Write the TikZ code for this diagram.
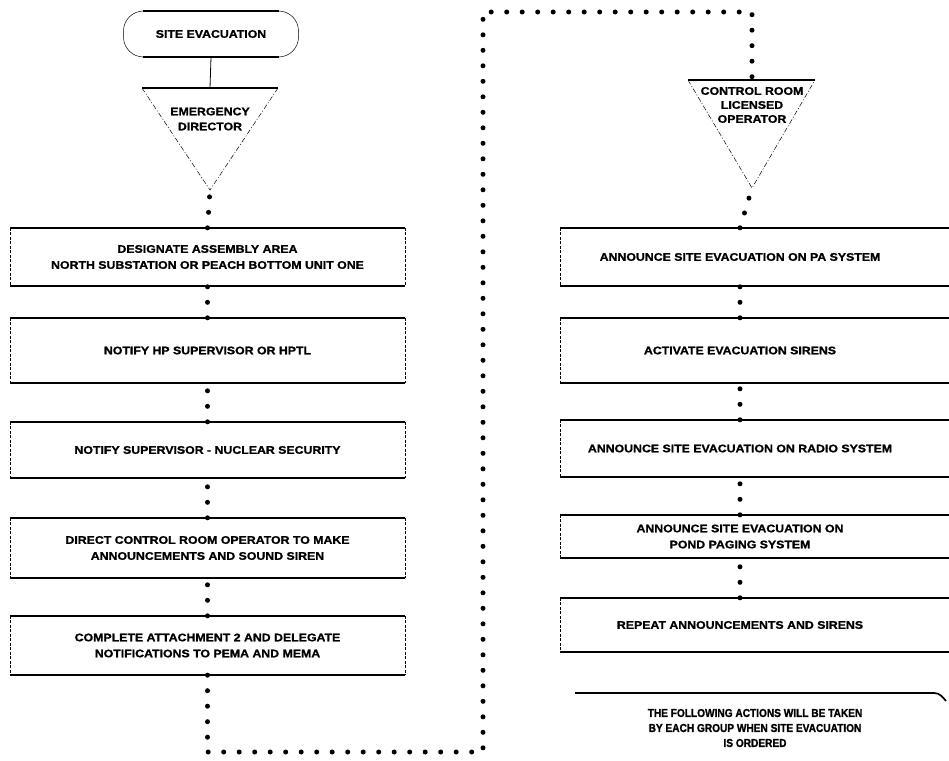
\documentclass[tikz,border=0pt]{standalone}
\usepackage{fontspec}
\setmainfont{Liberation Sans}[FakeStretch=1.12, BoldFeatures={FakeBold=1.2}]
\newfontfamily\notefont{Liberation Sans}[FakeStretch=0.88, BoldFeatures={FakeBold=1.3}]
\begin{document}
\begin{tikzpicture}[x=1pt,y=-1pt,font=\bfseries\fontsize{11}{16}\selectfont]
\tikzset{
  box/.style={inner sep=0pt, align=center, minimum width=395pt},
  rbox/.style={inner sep=0pt, align=center, minimum width=360pt},
  hedge/.style={line width=1.7pt},
  vedge/.style={line width=0.5pt, dash pattern=on 3pt off 1.5pt},
  tedge/.style={line width=0.5pt, dash pattern=on 5pt off 2pt on 1pt off 2pt},
  dotline/.style={line width=5pt, line cap=round, dash pattern=on 0pt off 15.5pt},
  term/.style={draw, line width=0.5pt, rounded corners=20pt, minimum width=175pt,
               minimum height=46pt, inner sep=0pt},
  lbl/.style={inner sep=0pt, align=center},
}
\clip (0,0) rectangle (949,760);
\fill[white] (0,0) rectangle (949,760);

% ---------- left column ----------
\node[term] (term) at (211,34) {SITE EVACUATION};
\draw[hedge] ([xshift=20pt]term.north west) -- ([xshift=-20pt]term.north east);
\draw[hedge] ([xshift=20pt]term.south west) -- ([xshift=-20pt]term.south east);

\coordinate (edL) at (142,88);
\coordinate (edR) at (278,88);
\coordinate (edT) at (210,88);
\coordinate (edA) at (210,190);
\node[lbl, font=\bfseries\fontsize{11}{15}\selectfont] (ed) at (210,119) {EMERGENCY\\DIRECTOR};
\draw[hedge] (edL) -- (edR);
\draw[tedge] (edL) -- (edA) -- (edR);
\draw[line width=0.8pt] (term.south) -- (edT);

\node[box, minimum height=58pt] (b1) at (207.5,257)
  {DESIGNATE ASSEMBLY AREA\\NORTH SUBSTATION OR PEACH BOTTOM UNIT ONE};
\node[box, minimum height=65pt] (b2) at (207.5,350.5) {NOTIFY HP SUPERVISOR OR HPTL};
\node[box, minimum height=56pt] (b3) at (207.5,450) {NOTIFY SUPERVISOR - NUCLEAR SECURITY};
\node[box, minimum height=60pt] (b4) at (207.5,548)
  {DIRECT CONTROL ROOM OPERATOR TO MAKE\\ANNOUNCEMENTS AND SOUND SIREN};
\node[box, minimum height=59pt] (b5) at (207.5,645.5)
  {COMPLETE ATTACHMENT 2 AND DELEGATE\\NOTIFICATIONS TO PEMA AND MEMA};

\foreach \n in {b1,b2,b3,b4,b5}{
  \draw[hedge] (\n.north west) -- (\n.north east);
  \draw[hedge] (\n.south west) -- (\n.south east);
  \draw[vedge] (\n.north west) -- (\n.south west);
  \draw[vedge] (\n.north east) -- (\n.south east);
}

\draw[dotline] (b1.north) -- (edA);
\draw[dotline] (b2.north) -- (b1.south);
\draw[dotline] (b3.north) -- (b2.south);
\draw[dotline] (b4.north) -- (b3.south);
\draw[dotline] (b5.north) -- (b4.south);

% ---------- right column ----------
\coordinate (crL) at (688,80);
\coordinate (crR) at (815,80);
\coordinate (crT) at (752,80);
\coordinate (crA) at (752,188);
\node[lbl, font=\bfseries\fontsize{11}{14}\selectfont] (cr) at (752,105) {CONTROL ROOM\\LICENSED\\OPERATOR};
\draw[hedge] (crL) -- (crR);
\draw[tedge] (crL) -- (crA) -- (crR);

\node[rbox, minimum height=58pt] (r1) at (740,257) {ANNOUNCE SITE EVACUATION ON PA SYSTEM};
\node[rbox, minimum height=65pt] (r2) at (740,350.5) {ACTIVATE EVACUATION SIRENS};
\node[rbox, minimum height=57pt] (r3) at (740,448.5) {ANNOUNCE SITE EVACUATION ON RADIO SYSTEM};
\node[rbox, minimum height=43pt] (r4) at (740,536.5) {ANNOUNCE SITE EVACUATION ON\\POND PAGING SYSTEM};
\node[rbox, minimum height=54pt] (r5) at (740,625) {REPEAT ANNOUNCEMENTS AND SIRENS};

\foreach \n in {r1,r2,r3,r4,r5}{
  \draw[hedge] (\n.north west) -- ++(400,0);
  \draw[hedge] (\n.south west) -- ++(400,0);
  \draw[vedge] (\n.north west) -- (\n.south west);
}

\draw[dotline] (r1.north) -- (crA);
\draw[dotline] (r2.north) -- (r1.south);
\draw[dotline] (r3.north) -- (r2.south);
\draw[dotline] (r4.north) -- (r3.south);
\draw[dotline] (r5.north) -- (r4.south);

% ---------- note ----------
\coordinate (noteL) at (575,693);
\coordinate (noteM) at (934,693);
\coordinate (noteR) at (946,701);
\draw[hedge] (noteL) -- (noteM) to[out=0,in=130] (noteR);
\node[lbl, font=\notefont\bfseries\fontsize{11.5}{15}\selectfont] (note) at (755,728)
  {THE FOLLOWING ACTIONS WILL BE TAKEN\\BY EACH GROUP WHEN SITE EVACUATION\\IS ORDERED};

% ---------- loop connector ----------
\coordinate (loopA) at (483,752);
\coordinate (loopB) at (483,12);
\draw[dotline] (b5.south) |- (loopA) -- (loopB) -| (crT);
\end{tikzpicture}
\end{document}
